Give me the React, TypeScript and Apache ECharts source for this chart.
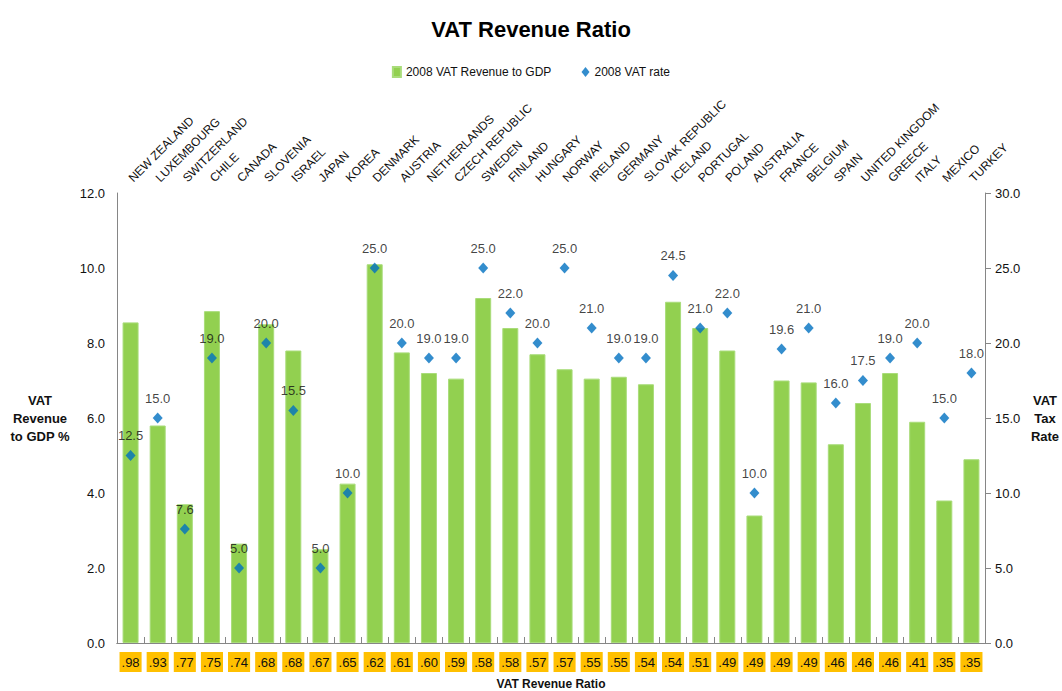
import React, { useEffect, useRef } from "react";
import * as echarts from "echarts";

const countries = [
  "NEW ZEALAND", "LUXEMBOURG", "SWITZERLAND", "CHILE", "CANADA", "SLOVENIA", "ISRAEL", "JAPAN",
  "KOREA", "DENMARK", "AUSTRIA", "NETHERLANDS", "CZECH REPUBLIC", "SWEDEN", "FINLAND", "HUNGARY",
  "NORWAY", "IRELAND", "GERMANY", "SLOVAK REPUBLIC", "ICELAND", "PORTUGAL", "POLAND", "AUSTRALIA",
  "FRANCE", "BELGIUM", "SPAIN", "UNITED KINGDOM", "GREECE", "ITALY", "MEXICO", "TURKEY",
];

const revenueRatio = [
  ".98", ".93", ".77", ".75", ".74", ".68", ".68", ".67", ".65", ".62", ".61", ".60", ".59", ".58", ".58", ".57",
  ".57", ".55", ".55", ".54", ".54", ".51", ".49", ".49", ".49", ".49", ".46", ".46", ".46", ".41", ".35", ".35",
];

const vatRevenueToGdp = [
  8.55, 5.8, 3.7, 8.85, 2.65, 8.5, 7.8, 2.5, 4.25, 10.1, 7.75, 7.2, 7.05, 9.2, 8.4, 7.7,
  7.3, 7.05, 7.1, 6.9, 9.1, 8.4, 7.8, 3.4, 7.0, 6.95, 5.3, 6.4, 7.2, 5.9, 3.8, 4.9,
];

const vatRate = [
  12.5, 15.0, 7.6, 19.0, 5.0, 20.0, 15.5, 5.0, 10.0, 25.0, 20.0, 19.0, 19.0, 25.0, 22.0, 20.0,
  25.0, 21.0, 19.0, 19.0, 24.5, 21.0, 22.0, 10.0, 19.6, 21.0, 16.0, 17.5, 19.0, 20.0, 15.0, 18.0,
];

const FONT = '"Liberation Sans", Arial, sans-serif';
const AXIS_GRAY = "#868686";
const TEXT = "#111111";

export default function App() {
  const ref = useRef<HTMLDivElement>(null);

  useEffect(() => {
    if (!ref.current) return;
    const chart = echarts.init(ref.current, null, { renderer: "svg" });
    chart.setOption({
      animation: false,
      backgroundColor: "#ffffff",
      textStyle: { fontFamily: FONT, color: TEXT },
      title: {
        text: "VAT Revenue Ratio",
        left: "center",
        top: 13,
        textStyle: { fontFamily: FONT, fontSize: 22, fontWeight: "bold", color: "#000" },
      },
      legend: {
        top: 61,
        left: "center",
        itemWidth: 8,
        itemHeight: 10,
        itemGap: 30,
        textStyle: { fontFamily: FONT, fontSize: 12, color: TEXT },
        data: [
          { name: "2008 VAT Revenue to GDP", icon: "rect" },
          { name: "2008 VAT rate", icon: "diamond" },
        ],
      },
      grid: {
        left: 117,
        right: 77,
        top: 193,
        bottom: 48,
        containLabel: false,
        outerBoundsMode: "none",
      },
      xAxis: [
        {
          type: "category",
          position: "bottom",
          data: countries,
          boundaryGap: true,
          axisLine: { show: true, lineStyle: { color: AXIS_GRAY, width: 1 } },
          axisTick: { show: false },
          axisLabel: {
            interval: 0,
            margin: 9,
            formatter: (_v: string, i: number) => revenueRatio[i],
            backgroundColor: "#FFC000",
            padding: [4, 2, 3, 2],
            fontSize: 13,
            fontFamily: FONT,
            color: TEXT,
          },
          name: "VAT Revenue Ratio",
          nameLocation: "middle",
          nameGap: 35,
          nameTextStyle: { fontFamily: FONT, fontSize: 12, fontWeight: "bold", color: TEXT },
        },
        {
          type: "category",
          position: "top",
          data: countries,
          boundaryGap: true,
          axisLine: { show: true, lineStyle: { color: AXIS_GRAY, width: 1 } },
          axisTick: { show: true, inside: false, length: 6, alignWithLabel: false, lineStyle: { color: AXIS_GRAY } },
          axisLabel: {
            interval: 0,
            rotate: 45,
            margin: 13,
            fontSize: 12,
            fontFamily: FONT,
            color: TEXT,
          },
        },
      ],
      yAxis: [
        {
          type: "value",
          position: "left",
          min: 0,
          max: 12,
          interval: 2,
          splitLine: { show: false },
          axisLine: { show: true, lineStyle: { color: AXIS_GRAY } },
          axisTick: { show: false },
          axisLabel: {
            formatter: (v: number) => v.toFixed(1),
            margin: 12,
            fontSize: 13,
            fontFamily: FONT,
            color: TEXT,
          },
          name: "VAT\nRevenue\nto GDP %",
          nameLocation: "middle",
          nameRotate: 0,
          nameGap: 77,
          nameTextStyle: {
            align: "center",
            verticalAlign: "middle",
            fontFamily: FONT,
            fontSize: 13,
            fontWeight: "bold",
            lineHeight: 18,
            color: TEXT,
          },
        },
        {
          type: "value",
          position: "right",
          min: 0,
          max: 30,
          interval: 5,
          splitLine: { show: false },
          axisLine: { show: true, lineStyle: { color: AXIS_GRAY } },
          axisTick: { show: true, length: 6, lineStyle: { color: AXIS_GRAY } },
          axisLabel: {
            formatter: (v: number) => v.toFixed(1),
            margin: 10,
            fontSize: 13,
            fontFamily: FONT,
            color: TEXT,
          },
          name: "VAT\nTax\nRate",
          nameLocation: "middle",
          nameRotate: 0,
          nameGap: 60,
          nameTextStyle: {
            align: "center",
            verticalAlign: "middle",
            fontFamily: FONT,
            fontSize: 13,
            fontWeight: "bold",
            lineHeight: 18,
            color: TEXT,
          },
        },
      ],
      series: [
        {
          name: "2008 VAT Revenue to GDP",
          type: "bar",
          xAxisIndex: 0,
          yAxisIndex: 0,
          data: vatRevenueToGdp,
          barWidth: 16,
          itemStyle: { color: "#92D050", borderColor: "#A9DC7A", borderWidth: 1 },
        },
        {
          name: "2008 VAT rate",
          type: "scatter",
          xAxisIndex: 0,
          yAxisIndex: 1,
          data: vatRate,
          symbol: "diamond",
          symbolSize: [10, 11],
          itemStyle: { color: "#0070C0" },
          label: {
            show: true,
            position: "top",
            distance: 8,
            formatter: (p: any) => Number(p.value).toFixed(1),
            fontSize: 13,
            fontFamily: FONT,
            color: TEXT,
          },
          z: 5,
        },
      ],
    });
    return () => chart.dispose();
  }, []);

  return (
    <div
      ref={ref}
      style={{ position: "fixed", left: 0, top: 0, width: 1062, height: 691 }}
    />
  );
}
